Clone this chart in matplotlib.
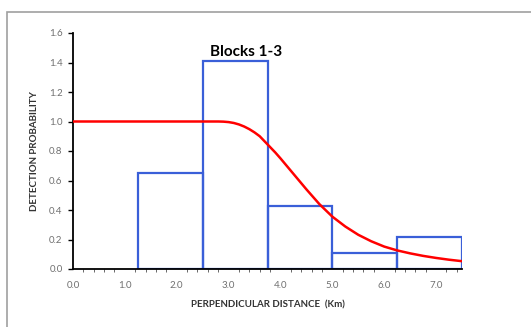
import numpy as np
import matplotlib
matplotlib.use('Agg')
import matplotlib.pyplot as plt
from matplotlib.patches import Rectangle
from matplotlib.ticker import MultipleLocator

plt.rcParams['font.family'] = ['Lato', 'DejaVu Sans']

# histogram bins (km) and heights
bin_edges = [1.25, 2.5, 3.75, 5.0, 6.25, 7.5]
bin_heights = [0.65, 1.41, 0.43, 0.11, 0.22]

# fitted detection function
curve_x = [0.0, 1.0, 2.0, 2.8, 2.9, 3.0, 3.1, 3.2, 3.3, 3.4, 3.5, 3.6, 3.75, 3.9, 4.0,
           4.25, 4.5, 4.75, 5.0, 5.25, 5.5, 5.75, 6.0, 6.25, 6.5, 6.75, 7.0, 7.25, 7.5]
curve_y = [1.0, 1.0, 1.0, 1.0, 0.999, 0.996, 0.99, 0.98, 0.966, 0.948, 0.926, 0.9, 0.845,
           0.79, 0.75, 0.645, 0.54, 0.44, 0.355, 0.288, 0.232, 0.188, 0.152, 0.126, 0.106,
           0.089, 0.075, 0.063, 0.053]

xticks = [0, 1, 2, 3, 4, 5, 6, 7]
yticks = [0, 0.2, 0.4, 0.6, 0.8, 1.0, 1.2, 1.4, 1.6]

fig = plt.figure(figsize=(5.31, 3.27), dpi=100)
fig.patches.append(Rectangle((7/531, -0.1), 1.2, 1 - 12/327 + 0.1, transform=fig.transFigure,
                             fill=False, edgecolor='#a0a0a0', linewidth=1.2))
ax = fig.add_axes([73/531, 1 - 269/327, 389/531, 236/327])

for l, r, h in zip(bin_edges[:-1], bin_edges[1:], bin_heights):
    ax.add_patch(Rectangle((l, 0), r - l, h, fill=False, edgecolor='#3a5fd8', linewidth=1.6))

ax.plot(curve_x, curve_y, color='#ff0000', linewidth=1.8, zorder=3, solid_joinstyle='round')

ax.set_xlim(0, 7.5)
ax.set_ylim(0, 1.6)
ax.set_xticks(xticks)
ax.set_xticklabels(['%.1f' % v for v in xticks])
ax.set_yticks(yticks)
ax.set_yticklabels(['%.1f' % v for v in yticks])
ax.xaxis.set_minor_locator(MultipleLocator(0.2))
ax.tick_params(axis='x', which='major', length=0, labelsize=7, labelcolor='#707070', pad=9)
ax.tick_params(axis='x', which='minor', length=2.5, width=0.6, color='#505050')
ax.tick_params(axis='y', which='major', length=3.5, width=1, labelsize=7, labelcolor='#707070', pad=4)
for s in ['top', 'right']:
    ax.spines[s].set_visible(False)
ax.spines['left'].set_linewidth(1.3)
ax.spines['bottom'].set_linewidth(1.3)

ax.set_xlabel('PERPENDICULAR DISTANCE  (Km)', fontsize=7, fontweight='bold', color='#333333', labelpad=7)
ax.set_ylabel('DETECTION PROBABILITY', fontsize=7, fontweight='bold', color='#333333', labelpad=7)
fig.text(246/531, 1 - 52/327, 'Blocks 1-3', fontsize=11, fontweight='bold', ha='center', va='center')

fig.savefig('out.png', dpi=100)
